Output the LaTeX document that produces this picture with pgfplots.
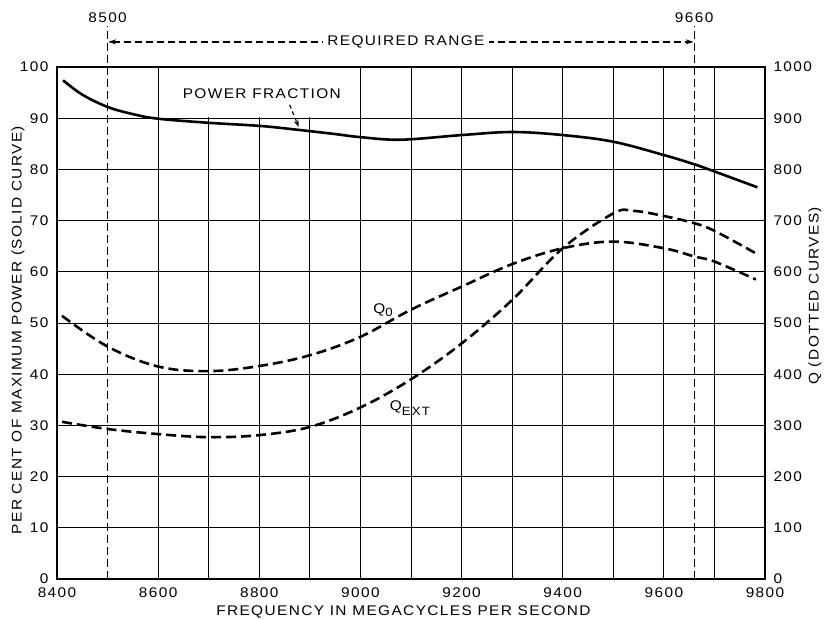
\documentclass[border=0pt]{standalone}
\usepackage{pgfplots}
\pgfplotsset{compat=1.18}
\usepackage{fontspec}
\setmainfont{Liberation Sans}[FakeStretch=1.1, LetterSpace=10]
\usetikzlibrary{arrows.meta}
\begin{document}
\begin{tikzpicture}[font=\fontsize{14}{16}\selectfont]
\begin{axis}[
  at={(0,0)}, anchor=south west,
  scale only axis, width=708pt, height=512pt,
  xmin=8400, xmax=9800, ymin=0, ymax=100,
  clip=false,
  /pgf/number format/assume math mode=true,
  /pgf/number format/set thousands separator={},
  xtick={8400,8600,...,9800},
  minor xtick={8700,8900,...,9700},
  ytick={0,10,...,100},
  ticklabel style={font=\fontsize{14}{16}\selectfont},
  yticklabel pos=left,
  tick style={draw=none},
  grid=both,
  major grid style={black, line width=0.9pt},
  minor grid style={black, line width=0.9pt},
  axis line style={line width=1.8pt},
  xticklabel style={anchor=center, yshift=-14pt},
  yticklabel style={anchor=east, xshift=-5pt},
]
% axis labels
\node at ([yshift=-33pt]axis cs:9085,0) {FREQUENCY IN MEGACYCLES PER SECOND};
\node[rotate=90] at ([xshift=-39pt]rel axis cs:0,0.486) {PER CENT OF MAXIMUM POWER (SOLID CURVE)};
% gap in grid behind the label
\fill[white] (axis cs:8630,90.25) rectangle (axis cs:8975,99.75);
% power fraction (solid)
\addplot[black, line width=2.6pt, smooth, tension=0.6] coordinates {
 (8412,97.4) (8450,94.6) (8500,92.2) (8550,90.8) (8600,89.9) (8700,89.1)
 (8800,88.5) (8870,87.8) (8950,86.9) (9000,86.3) (9080,85.8) (9200,86.7)
 (9300,87.3) (9400,86.7) (9500,85.4) (9600,82.8) (9660,81.0) (9700,79.6)
 (9785,76.5)
};
% required range lines
\draw[black, line width=1.3pt, dash pattern=on 8pt off 4pt] (axis cs:8500,0) -- (axis cs:8500,108.0);
\draw[black, line width=1.3pt, dash pattern=on 8pt off 4pt] (axis cs:9660,0) -- (axis cs:9660,108.0);
\node at (axis cs:8500,109.6) {8500};
\node at (axis cs:9660,109.6) {9660};
\draw[black, line width=1.3pt, dash pattern=on 7pt off 4pt, {Stealth[length=8pt,width=5pt]}-{Stealth[length=8pt,width=5pt]}]
  (axis cs:8501,104.9) -- (axis cs:9659,104.9);
\node[fill=white, inner xsep=4pt] at (axis cs:9090,104.9) {REQUIRED RANGE};
\node at (axis cs:8805,94.8) {POWER FRACTION};
\draw[black, line width=1.2pt, dash pattern=on 4pt off 3pt, -{Stealth[length=7pt,width=5pt]}]
  (axis cs:8860,92.6) -- (axis cs:8878,88.3);
\node[anchor=base west, inner sep=0pt] at (axis cs:9025,51.8) {Q\raisebox{-3pt}{\fontsize{12}{13}\selectfont 0}};
\node[anchor=base west, inner sep=0pt] at (axis cs:9058,33.0) {Q\raisebox{-5pt}{\fontsize{12}{13}\selectfont EXT}};
\end{axis}
\begin{axis}[
  at={(0,0)}, anchor=south west,
  scale only axis, width=708pt, height=512pt,
  xmin=8400, xmax=9800, ymin=0, ymax=1000,
  clip=false,
  axis x line=none,
  axis y line*=right,
  axis line style={line width=1.8pt},
  /pgf/number format/assume math mode=true,
  /pgf/number format/set thousands separator={},
  ytick={0,100,...,1000},
  ticklabel style={font=\fontsize{14}{16}\selectfont},
  tick style={draw=none},
  yticklabel style={anchor=west, xshift=5pt},
]
\node[rotate=90] at ([xshift=50pt]rel axis cs:1,0.553) {Q (DOTTED CURVES)};
% Q0
\addplot[black, line width=2.6pt, smooth, tension=0.6, dash pattern=on 10pt off 5pt] coordinates {
 (8410,514) (8500,454) (8600,415) (8700,406) (8800,416) (8900,437)
 (9000,473) (9100,526) (9200,571) (9300,615) (9400,646) (9500,659)
 (9600,646) (9660,630) (9700,620) (9782,585)
};
% Qext
\addplot[black, line width=2.6pt, smooth, tension=0.6, dash pattern=on 10pt off 5pt] coordinates {
 (8410,307) (8500,293) (8600,283) (8700,277) (8800,281) (8900,297)
 (9000,335) (9100,390) (9200,460) (9300,545) (9400,646) (9500,714)
 (9540,719) (9600,709) (9660,695) (9700,680) (9782,636)
};
\end{axis}
\pgfresetboundingbox
\path (-57pt,-41pt) rectangle (767pt,579pt);
\end{tikzpicture}
\end{document}
